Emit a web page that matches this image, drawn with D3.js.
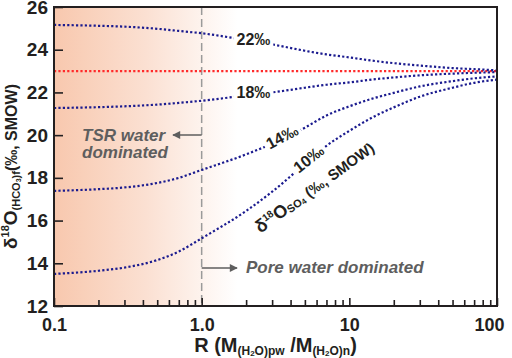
<!DOCTYPE html>
<html>
<head>
<meta charset="utf-8">
<script src="https://cdn.jsdelivr.net/npm/d3@7"></script>
<style>
  body { margin: 0; background: #fff; }
  text { font-family: "Liberation Sans", Arial, sans-serif; }
</style>
</head>
<body>
<div id="chart"></div>
<script>
// R values (x) and delta18O of the mixed water for each SO4 value
const rValues = [0.1, 0.2, 0.3, 0.5, 0.7, 1, 2, 3, 5, 7, 10, 15, 20, 30, 50, 70, 100];
const so4_22 = [25.16, 25.12, 25.08, 24.98, 24.88, 24.77, 24.45, 24.25, 23.95, 23.78, 23.64, 23.47, 23.37, 23.26, 23.14, 23.09, 23.03];
const so4_18 = [21.27, 21.31, 21.35, 21.43, 21.51, 21.61, 21.86, 22.0, 22.22, 22.36, 22.47, 22.62, 22.7, 22.8, 22.88, 22.92, 22.95];
const so4_14 = [17.39, 17.47, 17.55, 17.76, 18.0, 18.37, 19.1, 19.6, 20.35, 20.92, 21.35, 21.75, 21.98, 22.28, 22.53, 22.66, 22.75];
const so4_10 = [13.5, 13.65, 13.8, 14.15, 14.55, 15.17, 16.45, 17.35, 18.65, 19.5, 20.2, 20.9, 21.3, 21.8, 22.22, 22.45, 22.6];
const waterLine = [23, 23, 23, 23, 23, 23, 23, 23, 23, 23, 23, 23, 23, 23, 23, 23, 23];

const curveLabels = ["22‰", "18‰", "14‰", "10‰"];
const labelR = [2.24, 2.24, 3.5, 5.3];
const labelAngle = [0, 0, -28, -38];

const xTicks = [0.1, 1, 10, 100];
const xTickLabels = ["0.1", "1.0", "10", "100"];
const yTicks = [12, 14, 16, 18, 20, 22, 24, 26];

const width = 512, height = 358;
const marginTop = 7, marginRight = 15, marginBottom = 52, marginLeft = 54;

const x = d3.scaleLog([0.1, 100], [marginLeft, width - marginRight]);
const y = d3.scaleLinear([12, 26], [height - marginBottom, marginTop]);

const svg = d3.select("#chart").append("svg")
    .attr("width", width)
    .attr("height", height)
    .attr("viewBox", [0, 0, width, height]);

// pink background fading out near R = 1
const grad = svg.append("defs").append("linearGradient")
    .attr("id", "bg")
    .attr("gradientUnits", "userSpaceOnUse")
    .attr("x1", x(0.1)).attr("x2", x(1.75))
    .attr("y1", 0).attr("y2", 0);
grad.append("stop").attr("offset", 0).attr("stop-color", "#f8c8ae");
grad.append("stop").attr("offset", 0.5).attr("stop-color", "#fbe0d2");
grad.append("stop").attr("offset", 1).attr("stop-color", "#ffffff");

svg.append("rect")
    .attr("x", x(0.1)).attr("y", y(26))
    .attr("width", x(100) - x(0.1)).attr("height", y(12) - y(26))
    .attr("fill", "url(#bg)");

// dashed line at R = 1
svg.append("line")
    .attr("x1", x(1)).attr("x2", x(1))
    .attr("y1", y(26)).attr("y2", y(12))
    .attr("stroke", "#9a9a9a")
    .attr("stroke-width", 1.5)
    .attr("stroke-dasharray", "8,4");

const line = d3.line()
    .curve(d3.curveMonotoneX)
    .x((d, i) => x(rValues[i]))
    .y(d => y(d));

const series = [so4_22, so4_18, so4_14, so4_10];

svg.append("path")
    .attr("d", line(waterLine))
    .attr("fill", "none")
    .attr("stroke", "#ff2a2a")
    .attr("stroke-width", 2.2)
    .attr("stroke-dasharray", "2.2,2.2");

svg.append("g")
  .selectAll("path")
  .data(series)
  .join("path")
    .attr("d", d => line(d))
    .attr("fill", "none")
    .attr("stroke", "#1b1b8f")
    .attr("stroke-width", 2.2)
    .attr("stroke-dasharray", "2.2,2.2");

// curve labels sitting on the lines with a white patch behind them
series.forEach((s, k) => {
  const vAt = d3.scaleLog(rValues, s);
  const g = svg.append("g")
      .attr("transform", `translate(${x(labelR[k])},${y(vAt(labelR[k])) - 2}) rotate(${labelAngle[k]})`);
  const t = g.append("text")
      .attr("text-anchor", "middle")
      .attr("dy", "0.35em")
      .attr("font-size", 16)
      .attr("font-weight", "bold")
      .attr("fill", "#231f20")
      .text(curveLabels[k]);
  const b = t.node().getBBox();
  g.insert("rect", "text")
      .attr("x", b.x - 3).attr("y", b.y + 2)
      .attr("width", b.width + 6).attr("height", b.height - 2)
      .attr("fill", "#fff");
});

// delta18O SO4 label along the curves
const so4Label = svg.append("text")
    .attr("transform", `translate(318,192) rotate(-36)`)
    .attr("text-anchor", "middle")
    .attr("font-weight", "bold")
    .attr("fill", "#231f20")
    .attr("font-size", 18);
so4Label.append("tspan").text("δ");
so4Label.append("tspan").attr("font-size", 10).attr("dy", -7).text("18");
so4Label.append("tspan").attr("dy", 7).text("O");
so4Label.append("tspan").attr("font-size", 11).attr("dy", 1).text("SO");
so4Label.append("tspan").attr("font-size", 8).attr("dy", 1).text("4");
so4Label.append("tspan").attr("font-size", 15).attr("dy", -2).text(" (‰, SMOW)");

// axes
const xAxis = d3.axisBottom(x).tickValues(xTicks).tickFormat((d, i) => xTickLabels[i])
    .tickSize(-8).tickPadding(12);
const xMinor = d3.axisBottom(x)
    .tickValues(x.ticks().filter(d => !xTicks.includes(d)))
    .tickFormat("").tickSize(-6);
const yAxis = d3.axisLeft(y).tickValues(yTicks).tickSize(-9).tickPadding(6);

svg.append("g")
    .attr("transform", `translate(0,${height - marginBottom})`)
    .call(xMinor)
    .call(g => g.select(".domain").remove());

svg.append("g")
    .attr("transform", `translate(0,${height - marginBottom})`)
    .call(xAxis)
    .call(g => g.select(".domain").remove())
    .call(g => g.selectAll("text")
        .attr("font-size", 18).attr("font-weight", "bold").attr("fill", "#231f20")
        .attr("dx", d => d === 100 ? -8 : 0));

svg.append("g")
    .attr("transform", `translate(${marginLeft},0)`)
    .call(yAxis)
    .call(g => g.select(".domain").remove())
    .call(g => g.selectAll("text")
        .attr("font-size", 19).attr("font-weight", "bold").attr("fill", "#231f20"));

svg.selectAll(".tick line").attr("stroke", "#231f20").attr("stroke-width", 1.6);

// frame
svg.append("rect")
    .attr("x", x(0.1)).attr("y", y(26))
    .attr("width", x(100) - x(0.1)).attr("height", y(12) - y(26))
    .attr("fill", "none")
    .attr("stroke", "#231f20")
    .attr("stroke-width", 2);

// annotations
const arrowY1 = 135, arrowY2 = 268;
svg.append("defs").append("marker")
    .attr("id", "arr")
    .attr("viewBox", "0 0 10 10")
    .attr("refX", 9).attr("refY", 5)
    .attr("markerWidth", 10).attr("markerHeight", 8)
    .attr("markerUnits", "userSpaceOnUse")
    .attr("orient", "auto")
  .append("path")
    .attr("d", "M0,0L10,5L0,10Z")
    .attr("fill", "#5e5e5e");

svg.append("line")
    .attr("x1", x(1)).attr("x2", 173)
    .attr("y1", arrowY1).attr("y2", arrowY1)
    .attr("stroke", "#5e5e5e").attr("stroke-width", 1.5)
    .attr("marker-end", "url(#arr)");

svg.append("line")
    .attr("x1", x(1)).attr("x2", 237)
    .attr("y1", arrowY2).attr("y2", arrowY2)
    .attr("stroke", "#5e5e5e").attr("stroke-width", 1.5)
    .attr("marker-end", "url(#arr)");

const note = svg.append("g")
    .attr("font-size", 17)
    .attr("font-weight", "bold")
    .attr("font-style", "italic")
    .attr("fill", "#5e5e5e");
note.append("text").attr("x", 82).attr("y", 141).text("TSR water");
note.append("text").attr("x", 82).attr("y", 158).text("dominated");
note.append("text").attr("x", 246).attr("y", 273).text("Pore water dominated");

// axis titles
const yTitle = svg.append("text")
    .attr("transform", `translate(17,${(y(12) + y(26)) / 2 + 10}) rotate(-90)`)
    .attr("text-anchor", "middle")
    .attr("font-weight", "bold")
    .attr("fill", "#231f20")
    .attr("font-size", 19);
yTitle.append("tspan").text("δ");
yTitle.append("tspan").attr("font-size", 11).attr("dy", -8).text("18");
yTitle.append("tspan").attr("dy", 8).text("O");
yTitle.append("tspan").attr("font-size", 11).attr("dy", 3).text("(HCO");
yTitle.append("tspan").attr("font-size", 7).attr("dy", 1).text("3");
yTitle.append("tspan").attr("font-size", 11).attr("dy", -1).text(")f");
yTitle.append("tspan").attr("font-size", 16).attr("dy", -3).text("(‰, SMOW)");

const xTitle = svg.append("text")
    .attr("x", (x(0.1) + x(100)) / 2)
    .attr("y", 352)
    .attr("text-anchor", "middle")
    .attr("font-weight", "bold")
    .attr("fill", "#231f20")
    .attr("font-size", 20);
xTitle.append("tspan").text("R (M");
xTitle.append("tspan").attr("font-size", 12).attr("dy", 3).text("(H");
xTitle.append("tspan").attr("font-size", 8).attr("dy", 1).text("2");
xTitle.append("tspan").attr("font-size", 12).attr("dy", -1).text("O)pw");
xTitle.append("tspan").attr("dy", -3).text(" /M");
xTitle.append("tspan").attr("font-size", 12).attr("dy", 3).text("(H");
xTitle.append("tspan").attr("font-size", 8).attr("dy", 1).text("2");
xTitle.append("tspan").attr("font-size", 12).attr("dy", -1).text("O)n");
xTitle.append("tspan").attr("dy", -3).text(")");
</script>
</body>
</html>
